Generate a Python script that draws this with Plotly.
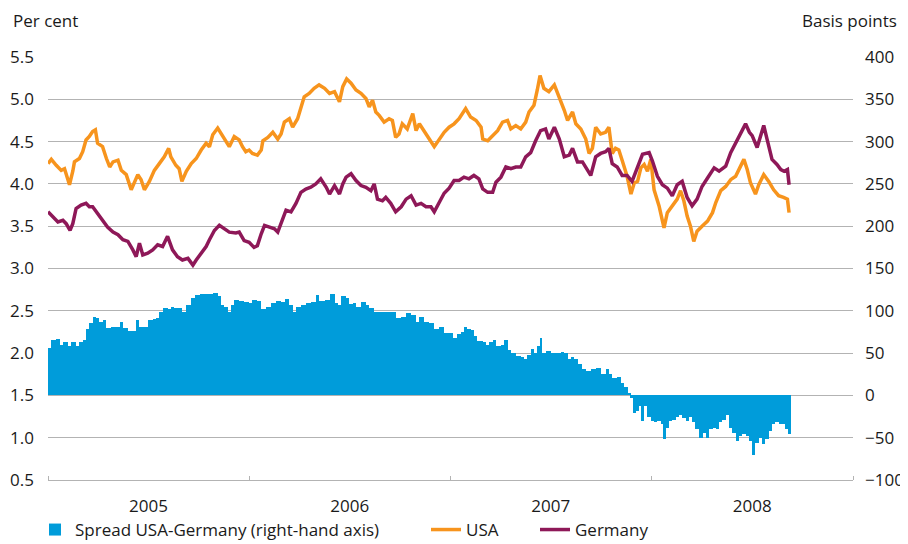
import numpy as np
import pandas as pd
import plotly.graph_objects as go

START = pd.Timestamp("2005-01-01")

# ---- data (days since 1 Jan 2005) ----
usa_day = [0, 6, 15, 24, 30, 39, 45, 48, 57, 63, 69, 75, 81, 86, 90, 99, 106, 112, 118, 127, 133, 142, 151, 157, 163, 169, 175, 184, 193, 202, 211, 219, 223, 232, 238, 243, 251, 260, 269, 278, 287, 293, 299, 308, 314, 320, 329, 338, 347, 353, 359, 365, 371, 380, 387, 390, 399, 408, 417, 423, 429, 438, 444, 453, 459, 465, 474, 483, 492, 502, 511, 520, 529, 535, 542, 550, 559, 568, 577, 583, 589, 595, 601, 610, 619, 625, 631, 637, 643, 652, 662, 668, 674, 683, 692, 701, 710, 719, 728, 737, 746, 758, 767, 777, 786, 789, 798, 807, 816, 825, 834, 840, 849, 858, 867, 873, 882, 888, 893, 900, 909, 919, 928, 937, 943, 952, 958, 967, 976, 982, 988, 994, 1003, 1012, 1018, 1024, 1030, 1036, 1042, 1051, 1058, 1064, 1070, 1076, 1082, 1088, 1094, 1100, 1109, 1118, 1124, 1133, 1142, 1148, 1154, 1160, 1166, 1172, 1178, 1187, 1197, 1206, 1212, 1221, 1230, 1239, 1248, 1257, 1263, 1269, 1275, 1284, 1290, 1299, 1308, 1317, 1326, 1335, 1342, 1345]
usa_pct = [4.24, 4.29, 4.22, 4.16, 4.18, 3.99, 4.15, 4.26, 4.30, 4.38, 4.52, 4.56, 4.62, 4.64, 4.48, 4.44, 4.30, 4.20, 4.26, 4.28, 4.16, 4.11, 3.93, 4.01, 4.11, 4.05, 3.93, 4.03, 4.16, 4.24, 4.32, 4.42, 4.32, 4.22, 4.18, 4.03, 4.15, 4.24, 4.30, 4.40, 4.48, 4.44, 4.58, 4.66, 4.60, 4.54, 4.44, 4.56, 4.52, 4.44, 4.38, 4.40, 4.36, 4.34, 4.40, 4.51, 4.55, 4.61, 4.53, 4.59, 4.73, 4.77, 4.67, 4.77, 4.91, 5.03, 5.07, 5.13, 5.17, 5.13, 5.07, 5.09, 4.97, 5.15, 5.24, 5.19, 5.11, 5.07, 5.01, 4.91, 4.99, 4.85, 4.81, 4.73, 4.77, 4.75, 4.55, 4.59, 4.71, 4.65, 4.83, 4.63, 4.71, 4.61, 4.53, 4.44, 4.53, 4.61, 4.67, 4.71, 4.77, 4.89, 4.79, 4.75, 4.67, 4.53, 4.51, 4.57, 4.63, 4.73, 4.75, 4.65, 4.69, 4.65, 4.73, 4.85, 4.93, 5.11, 5.28, 5.13, 5.09, 5.17, 5.03, 4.87, 4.75, 4.85, 4.71, 4.65, 4.53, 4.36, 4.42, 4.67, 4.59, 4.61, 4.67, 4.36, 4.42, 4.40, 4.28, 4.09, 3.88, 4.01, 4.03, 4.19, 4.23, 4.15, 4.29, 3.93, 3.74, 3.48, 3.66, 3.74, 3.82, 3.92, 3.80, 3.62, 3.50, 3.32, 3.44, 3.50, 3.56, 3.66, 3.78, 3.92, 3.97, 4.05, 4.09, 4.21, 4.29, 4.17, 4.01, 3.88, 3.99, 4.11, 4.03, 3.93, 3.86, 3.84, 3.82, 3.66]

ger_day = [0, 9, 18, 27, 33, 40, 45, 51, 60, 69, 75, 81, 90, 99, 108, 118, 127, 136, 145, 154, 160, 166, 172, 181, 190, 199, 208, 217, 226, 235, 244, 254, 263, 269, 278, 287, 293, 302, 311, 320, 329, 341, 347, 356, 365, 374, 380, 387, 393, 402, 411, 417, 423, 432, 441, 450, 459, 468, 477, 486, 495, 505, 511, 520, 529, 535, 541, 550, 559, 568, 577, 586, 592, 598, 607, 613, 622, 631, 641, 650, 659, 668, 677, 686, 695, 701, 710, 719, 728, 737, 746, 755, 764, 773, 782, 789, 798, 807, 813, 822, 831, 840, 849, 858, 867, 876, 885, 894, 903, 909, 919, 928, 937, 946, 952, 961, 970, 979, 985, 994, 1003, 1012, 1018, 1024, 1033, 1042, 1051, 1060, 1067, 1073, 1079, 1091, 1097, 1106, 1115, 1124, 1133, 1142, 1151, 1160, 1169, 1178, 1187, 1197, 1209, 1218, 1230, 1239, 1248, 1257, 1266, 1273, 1278, 1287, 1293, 1299, 1305, 1314, 1323, 1330, 1336, 1342, 1345]
ger_pct = [3.67, 3.61, 3.55, 3.57, 3.53, 3.45, 3.53, 3.71, 3.75, 3.77, 3.73, 3.73, 3.65, 3.57, 3.49, 3.43, 3.40, 3.34, 3.32, 3.22, 3.14, 3.30, 3.16, 3.18, 3.22, 3.28, 3.26, 3.38, 3.22, 3.14, 3.10, 3.12, 3.04, 3.10, 3.18, 3.26, 3.34, 3.45, 3.51, 3.47, 3.43, 3.42, 3.43, 3.33, 3.31, 3.25, 3.27, 3.41, 3.51, 3.49, 3.47, 3.43, 3.53, 3.69, 3.67, 3.77, 3.90, 3.94, 3.96, 4.00, 4.06, 3.96, 3.88, 3.98, 3.88, 4.00, 4.08, 4.12, 4.04, 3.98, 3.96, 3.92, 4.00, 3.82, 3.80, 3.84, 3.77, 3.67, 3.73, 3.82, 3.86, 3.75, 3.77, 3.73, 3.73, 3.67, 3.78, 3.89, 3.95, 4.04, 4.04, 4.08, 4.06, 4.10, 4.06, 3.94, 3.90, 3.90, 4.02, 4.08, 4.20, 4.18, 4.20, 4.20, 4.32, 4.37, 4.51, 4.63, 4.65, 4.53, 4.67, 4.53, 4.32, 4.34, 4.42, 4.26, 4.26, 4.16, 4.10, 4.32, 4.36, 4.38, 4.42, 4.24, 4.20, 4.10, 4.10, 4.03, 4.15, 4.25, 4.35, 4.37, 4.27, 4.09, 3.99, 3.95, 3.86, 3.99, 4.03, 3.84, 3.74, 3.82, 3.97, 4.07, 4.19, 4.15, 4.21, 4.37, 4.49, 4.61, 4.71, 4.61, 4.57, 4.43, 4.55, 4.69, 4.53, 4.29, 4.23, 4.17, 4.15, 4.17, 3.99]

spread_day = [0, 6, 15, 21, 27, 36, 42, 51, 57, 63, 69, 75, 81, 87, 93, 99, 106, 115, 124, 130, 136, 145, 154, 160, 166, 175, 181, 190, 196, 202, 208, 217, 223, 229, 238, 244, 251, 260, 266, 275, 284, 293, 299, 308, 314, 320, 326, 332, 338, 347, 356, 365, 371, 380, 387, 396, 405, 414, 423, 431, 438, 444, 450, 459, 468, 477, 486, 492, 502, 511, 520, 526, 532, 541, 547, 553, 559, 568, 577, 583, 592, 601, 613, 622, 631, 641, 650, 659, 668, 674, 683, 692, 701, 710, 719, 728, 735, 743, 749, 755, 761, 767, 773, 779, 789, 795, 801, 807, 813, 822, 828, 834, 840, 849, 858, 864, 870, 876, 882, 888, 893, 897, 903, 913, 922, 931, 937, 943, 949, 955, 961, 970, 976, 985, 994, 1003, 1012, 1018, 1024, 1033, 1040, 1046, 1052, 1058, 1061, 1067, 1073, 1076, 1082, 1088, 1094, 1100, 1106, 1112, 1117, 1121, 1127, 1133, 1139, 1145, 1151, 1157, 1163, 1169, 1175, 1181, 1188, 1195, 1200, 1206, 1212, 1218, 1224, 1230, 1236, 1242, 1248, 1254, 1260, 1266, 1272, 1278, 1284, 1290, 1296, 1302, 1308, 1314, 1320, 1326, 1332, 1338, 1343]
spread_bp = [56, 66, 67, 60, 63, 58, 63, 58, 63, 66, 78, 85, 93, 91, 87, 89, 80, 81, 81, 87, 80, 76, 76, 89, 81, 81, 89, 90, 91, 99, 103, 102, 105, 103, 103, 99, 107, 115, 119, 120, 120, 120, 121, 117, 107, 105, 99, 107, 113, 112, 110, 109, 113, 111, 102, 105, 109, 111, 110, 114, 107, 99, 105, 107, 109, 110, 119, 112, 113, 120, 109, 107, 118, 115, 108, 109, 105, 110, 107, 103, 99, 99, 99, 99, 91, 93, 97, 95, 87, 93, 87, 85, 78, 81, 74, 74, 68, 73, 75, 81, 78, 77, 70, 64, 63, 60, 63, 65, 58, 59, 65, 54, 50, 46, 45, 43, 48, 55, 50, 58, 68, 50, 52, 50, 50, 51, 50, 43, 45, 43, 37, 31, 29, 31, 32, 25, 31, 25, 21, 22, 15, 10, 3, -3, -21, -19, -13, -30, -13, -25, -30, -32, -30, -34, -52, -38, -30, -29, -25, -23, -27, -30, -25, -32, -40, -50, -44, -50, -40, -38, -40, -32, -29, -23, -38, -44, -54, -48, -46, -48, -54, -70, -56, -50, -58, -52, -42, -34, -32, -34, -34, -40, -46]

x_range = ["2005-01-01", "2009-01-01"]

ORANGE = "#F7941D"
PURPLE = "#8E1858"
BLUE = "#009CDA"
GRID = "#b3b3b3"
TXT = "#1a1a1a"
FONT = "Open Sans"
FS = 17

# the page adds an 8 px body margin, so the figure is 8 px smaller each way
W, H = 900, 536
ML, MR, MT, MB = 40, 55, 49, 64
PW, PH = W - ML - MR, H - MT - MB


def to_dates(days):
    return START + pd.to_timedelta(np.asarray(days), unit="D")


day_ms = 86400000
sd = np.asarray(spread_day)
bar_w = np.diff(np.append(sd, sd[-1] + 6)) * day_ms

fig = go.Figure()
fig.add_trace(go.Bar(
    x=to_dates(spread_day), y=spread_bp, yaxis="y2",
    width=bar_w, offset=0,
    marker=dict(color=BLUE, line=dict(width=0)),
    name="Spread USA-Germany (right-hand axis)", legend="legend",
))
fig.add_trace(go.Scatter(
    x=to_dates(usa_day), y=usa_pct, mode="lines",
    line=dict(color=ORANGE, width=3.5), name="USA", legend="legend2",
))
fig.add_trace(go.Scatter(
    x=to_dates(ger_day), y=ger_pct, mode="lines",
    line=dict(color=PURPLE, width=3.5), name="Germany", legend="legend3",
))

leg_common = dict(orientation="h", xref="container", yref="container",
                  xanchor="left", yanchor="middle", y=1 - 522 / H,
                  font=dict(size=FS, color=TXT), bgcolor="rgba(0,0,0,0)")

fig.update_layout(
    width=W, height=H,
    margin=dict(l=ML, r=MR, t=MT, b=MB, autoexpand=False),
    paper_bgcolor="white", plot_bgcolor="white",
    font=dict(family=FONT, size=FS, color=TXT),
    showlegend=True,
    bargap=0,
    legend=dict(leg_common, x=27 / W),
    legend2=dict(leg_common, x=418 / W),
    legend3=dict(leg_common, x=527 / W),
    xaxis=dict(type="date", range=x_range, dtick="M12", tick0="2005-01-01",
               ticklabelmode="period", tickformat="%Y",
               ticks="inside", ticklen=4, tickcolor=GRID,
               showline=True, linecolor=GRID, linewidth=1,
               showgrid=False, zeroline=False, ticklabelstandoff=11,
               automargin=False),
    yaxis=dict(range=[0.5, 5.5], dtick=0.5, tick0=0.5, tickformat=".1f",
               showgrid=True, gridcolor=GRID, gridwidth=1, zeroline=False,
               showline=False, ticks="", ticklabelstandoff=13, automargin=False),
    yaxis2=dict(range=[-100, 400], dtick=50, tick0=-100, overlaying="y", side="right",
                showgrid=False, zeroline=False, showline=False, ticks="",
                ticklabelstandoff=11, automargin=False),
    annotations=[
        dict(text="Per cent", xref="paper", yref="paper", x=(4 - ML) / PW,
             y=1 + MT / PH, xanchor="left", yanchor="top", borderpad=0,
             showarrow=False, font=dict(size=FS, color=TXT)),
        dict(text="Basis points", xref="paper", yref="paper", x=(890 - ML) / PW,
             y=1 + MT / PH, xanchor="right", yanchor="top", borderpad=0,
             showarrow=False, font=dict(size=FS, color=TXT)),
    ],
)

fig.write_html("out.html")
